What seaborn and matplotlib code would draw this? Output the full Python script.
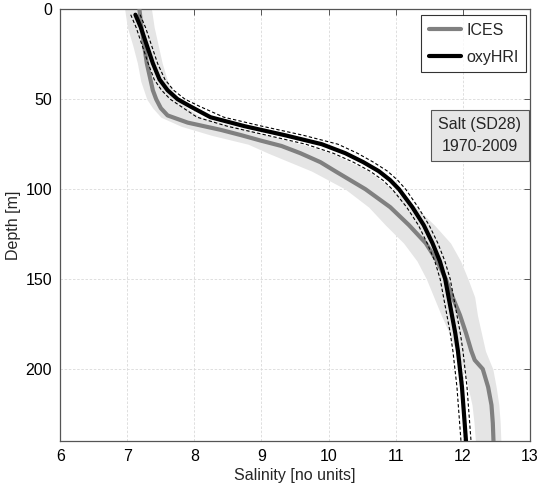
import numpy as np
import pandas as pd
import matplotlib
matplotlib.use("Agg")
import matplotlib.pyplot as plt
import seaborn as sns

# ---- data ----
ices_depth = [0, 10, 20, 30, 40, 45, 50, 55, 59, 63, 67, 70, 73, 76, 80, 85, 90, 100, 110, 120,
              130, 140, 150, 160, 170, 180, 190, 195, 200, 210, 220, 230, 240]
ices_sal = [7.18, 7.21, 7.25, 7.29, 7.35, 7.38, 7.43, 7.50, 7.60, 7.90, 8.39, 8.70, 8.99, 9.30,
            9.58, 9.88, 10.10, 10.55, 10.92, 11.20, 11.45, 11.62, 11.75, 11.85, 11.96, 12.05,
            12.13, 12.18, 12.30, 12.38, 12.43, 12.45, 12.46]

band_depth = [0, 10, 20, 30, 40, 50, 55, 60, 65, 70, 75, 80, 90, 100, 110, 120, 130, 140, 150,
              160, 170, 180, 190, 200, 210, 220, 230, 240]
band_lo = [6.96, 7.00, 7.08, 7.15, 7.20, 7.29, 7.38, 7.50, 7.80, 8.25, 8.80, 9.10, 9.75, 10.25,
           10.60, 10.85, 11.12, 11.32, 11.46, 11.57, 11.68, 11.80, 11.90, 12.02, 12.08, 12.14,
           12.17, 12.19]
band_hi = [7.36, 7.40, 7.46, 7.52, 7.60, 7.75, 7.90, 8.10, 8.60, 9.10, 9.60, 10.05, 10.60, 10.95,
           11.30, 11.58, 11.82, 11.97, 12.08, 12.18, 12.22, 12.28, 12.34, 12.45, 12.50, 12.54,
           12.56, 12.57]

hri_depth = [3, 10, 20, 30, 39, 45, 50, 54, 60, 65, 70, 75, 80, 85, 90, 95, 100, 110, 120, 130,
             140, 150, 160, 170, 180, 190, 200, 210, 220, 230, 240]
hri_sal = [7.12, 7.20, 7.29, 7.38, 7.48, 7.60, 7.75, 7.94, 8.24, 8.75, 9.35, 9.90, 10.25, 10.52,
           10.75, 10.92, 11.05, 11.25, 11.42, 11.55, 11.66, 11.74, 11.79, 11.84, 11.89, 11.93,
           11.96, 11.99, 12.01, 12.03, 12.05]
hri_sd = [0.07, 0.07, 0.07, 0.07, 0.08, 0.09, 0.11, 0.14, 0.20, 0.26, 0.27, 0.24, 0.18, 0.15,
          0.13, 0.11, 0.10, 0.085, 0.08, 0.08, 0.075, 0.075, 0.075, 0.075, 0.075, 0.075, 0.075,
          0.075, 0.075, 0.075, 0.075]

x_ticks = [6, 7, 8, 9, 10, 11, 12, 13]
y_ticks = [0, 50, 100, 150, 200]

# ---- figure ----
sns.set_theme(style="white")
plt.rcParams['font.family'] = ['Liberation Sans Narrow', 'Liberation Sans', 'DejaVu Sans']
FS = 11.5

fig = plt.figure(figsize=(5.37, 4.95), dpi=100)
ax = fig.add_axes([0.1123, 0.1091, 0.8741, 0.8721])

ax.fill_betweenx(band_depth, band_lo, band_hi, color='#e5e5e5', lw=0, zorder=1)

ices_df = pd.DataFrame({"Salinity": ices_sal, "Depth": ices_depth})
hri_df = pd.DataFrame({"Salinity": hri_sal, "Depth": hri_depth,
                       "lo": np.array(hri_sal) - np.array(hri_sd),
                       "hi": np.array(hri_sal) + np.array(hri_sd)})

sns.lineplot(data=ices_df, x="Salinity", y="Depth", orient="y", sort=False, estimator=None,
             color='#808080', lw=3, ax=ax, label="ICES", zorder=3)
sns.lineplot(data=hri_df, x="Salinity", y="Depth", orient="y", sort=False, estimator=None,
             color='black', lw=3, ax=ax, label="oxyHRI", zorder=4)
sns.lineplot(data=hri_df, x="lo", y="Depth", orient="y", sort=False, estimator=None,
             color='black', lw=0.8, ls=(0, (3, 2)), ax=ax, zorder=4)
sns.lineplot(data=hri_df, x="hi", y="Depth", orient="y", sort=False, estimator=None,
             color='black', lw=0.8, ls=(0, (3, 2)), ax=ax, zorder=4)

ax.set_xlim(6, 13)
ax.set_ylim(240, 0)
ax.set_xticks(x_ticks)
ax.set_yticks(y_ticks)
ax.set_xticklabels([str(t) for t in x_ticks], fontsize=FS)
ax.set_yticklabels([str(t) for t in y_ticks], fontsize=FS)
ax.set_xlabel("Salinity [no units]", fontsize=FS, labelpad=3)
ax.set_ylabel("Depth [m]", fontsize=FS, labelpad=3)

ax.grid(True, color='#d9d9d9', ls=(0, (3, 2)), lw=0.6, zorder=0)
ax.set_axisbelow(True)
for s in ax.spines.values():
    s.set_color('#555555')
    s.set_linewidth(0.9)
ax.tick_params(direction='in', length=4, width=0.7, color='#555555', top=True, right=True,
               labelsize=FS, pad=6, labelcolor='black')

leg = ax.legend(loc='upper right', bbox_to_anchor=(0.9915, 0.986), fontsize=FS, frameon=True,
                fancybox=False, edgecolor='black', handlelength=2.0, borderpad=0.45,
                labelspacing=0.75, handletextpad=0.35, borderaxespad=0.0)
leg.get_frame().set_linewidth(0.8)

ax.text(0.894, 0.707, "Salt (SD28)\n1970-2009", transform=ax.transAxes, ha='center', va='center',
        fontsize=FS, linespacing=1.55,
        bbox=dict(boxstyle='square,pad=0.45', fc='#e6e6e6', ec='#555555', lw=0.8), zorder=6)

fig.savefig("out.png", dpi=100)
